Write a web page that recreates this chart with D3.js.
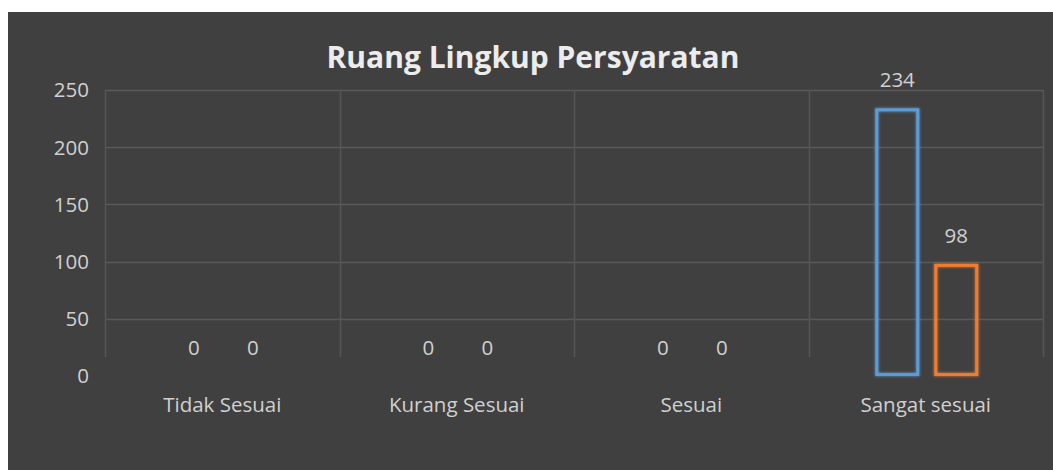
<!DOCTYPE html>
<html>
<head>
<meta charset="utf-8">
<script src="https://cdn.jsdelivr.net/npm/d3@7"></script>
<style>
  html, body { margin: 0; padding: 0; background: #ffffff; }
  svg { display: block; }
  text { font-family: "Open Sans", Lato, sans-serif; }
</style>
</head>
<body>
<svg id="chart" width="1053" height="470"></svg>
<script>
const title = "Ruang Lingkup Persyaratan";
const categories = ["Tidak Sesuai", "Kurang Sesuai", "Sesuai", "Sangat sesuai"];
const seriesNames = ["Seri 1", "Seri 2"];
const series1 = [0, 0, 0, 234];
const series2 = [0, 0, 0, 98];
const yTicks = [0, 50, 100, 150, 200, 250];
const seriesColors = ["#5b9bd5", "#ed7d31"];

const W = 1053, H = 470;
const svg = d3.select("#chart");

const defs = svg.append("defs");
const glow = defs.append("filter").attr("id", "glow")
  .attr("x", "-30%").attr("y", "-10%").attr("width", "160%").attr("height", "120%");
glow.append("feGaussianBlur").attr("in", "SourceGraphic").attr("stdDeviation", 1.6).attr("result", "b");
const fm = glow.append("feMerge");
fm.append("feMergeNode").attr("in", "b");
fm.append("feMergeNode").attr("in", "SourceGraphic");

// chart area background
svg.append("rect").attr("x", 8).attr("y", 12).attr("width", W - 8).attr("height", H - 12)
  .attr("fill", "#404040");

const plot = { left: 105, right: 1043, top: 90, bottom: 376 };

const x = d3.scaleBand().domain(categories).range([plot.left, plot.right]).padding(0);
const bw = x.bandwidth();
const groupW = 103;
const xs = d3.scaleBand().domain(seriesNames)
  .range([bw / 2 - groupW / 2 + 1, bw / 2 + groupW / 2 + 1]).paddingInner(0.254);
const y = d3.scaleLinear().domain([0, 250]).range([plot.bottom, plot.top]);

// horizontal gridlines
svg.append("g").selectAll("line").data(yTicks.filter(d => d > 0)).join("line")
  .attr("x1", plot.left).attr("x2", plot.right)
  .attr("y1", d => Math.round(y(d)) + 0.5).attr("y2", d => Math.round(y(d)) + 0.5)
  .attr("stroke", "#595959").attr("stroke-width", 1.5);

// vertical gridlines (category boundaries)
const bounds = categories.map(c => x(c)).concat([plot.right]);
svg.append("g").selectAll("line").data(bounds).join("line")
  .attr("x1", d => Math.round(d) + 0.5).attr("x2", d => Math.round(d) + 0.5)
  .attr("y1", y(250)).attr("y2", y(16.5))
  .attr("stroke", "#565656").attr("stroke-width", 1.5);

// y axis labels
const yAxis = d3.axisLeft(y).tickValues(yTicks).tickSize(0).tickPadding(0);
const gy = svg.append("g").attr("transform", `translate(89,0)`).call(yAxis);
gy.select(".domain").remove();
gy.selectAll("text").attr("fill", "#d0d0d0").attr("font-size", 20.5)
  .attr("dy", "0.34em").attr("font-family", "\"Open Sans\", Lato, sans-serif");

// x axis labels
const xAxis = d3.axisBottom(x).tickSize(0).tickPadding(0);
const gx = svg.append("g").attr("transform", `translate(0,405)`).call(xAxis);
gx.select(".domain").remove();
gx.selectAll("text").attr("fill", "#d0d0d0").attr("font-size", 20.5)
  .attr("dy", "0.34em").attr("y", 0).attr("font-family", "\"Open Sans\", Lato, sans-serif");

// bars
const rows = categories.map((c, i) => ({ cat: c, vals: [series1[i], series2[i]] }));
const groups = svg.append("g").selectAll("g").data(rows).join("g")
  .attr("transform", d => `translate(${x(d.cat)},0)`);

const items = groups.selectAll("g.item")
  .data(d => d.vals.map((v, k) => ({ name: seriesNames[k], v, k })))
  .join("g").attr("class", "item");

items.filter(d => d.v > 0).append("rect")
  .attr("x", d => xs(d.name) + 1.5)
  .attr("width", xs.bandwidth() - 3)
  .attr("y", d => y(d.v) + 1.5)
  .attr("height", d => y(0) - y(d.v) - 3)
  .attr("fill", "none")
  .attr("stroke", d => seriesColors[d.k])
  .attr("stroke-width", 3)
  .attr("filter", "url(#glow)");

items.append("text")
  .attr("x", d => xs(d.name) + xs.bandwidth() / 2)
  .attr("y", d => y(d.v) - 28)
  .attr("dy", "0.34em")
  .attr("text-anchor", "middle")
  .attr("fill", "#d0d0d0")
  .attr("font-size", 20.5)
  .text(d => d.v);

// title
svg.append("text").attr("x", 533).attr("y", 57).attr("dy", "0.35em")
  .attr("text-anchor", "middle").attr("fill", "#ececec")
  .attr("font-weight", "bold").attr("font-size", 30)
  .text(title);
</script>
</body>
</html>
